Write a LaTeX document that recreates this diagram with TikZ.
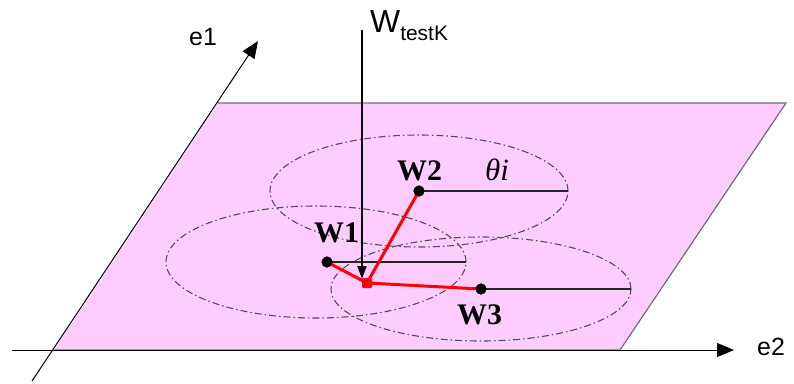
\documentclass[tikz,border=0pt]{standalone}
\usepackage{fontspec}
\setmainfont{Liberation Serif}
\setsansfont{Liberation Sans}
\usetikzlibrary{arrows.meta}
\definecolor{planepink}{HTML}{FFCCFF}
\definecolor{edgegray}{HTML}{707070}
\definecolor{ringgray}{HTML}{505050}
\begin{document}
\begin{tikzpicture}[x=1bp,y=-1bp,
  plane/.style={fill=planepink},
  planeedge/.style={draw=edgegray,line width=1.2bp},
  axis/.style={draw=black,line width=1bp,-{Triangle[length=17bp,width=14bp]}},
  ring/.style={draw=ringgray,line width=1.1bp,dash pattern=on 7bp off 3bp on 1.5bp off 3bp},
  dot/.style={circle,fill=black,inner sep=0pt,minimum size=11bp},
  redpt/.style={rectangle,rounded corners=1.5bp,fill=red,inner sep=0pt,minimum size=10bp},
  redline/.style={draw=red,line width=3bp},
  radline/.style={draw=black!85,line width=1.1bp},
  wlabel/.style={font=\bfseries\fontsize{30}{30}\selectfont,inner sep=0pt,anchor=base west},
  axlabel/.style={font=\sffamily\fontsize{25}{25}\selectfont,inner sep=0pt,anchor=base west}
]
\useasboundingbox (0,0) rectangle (794,383);
% plane
\fill[plane] (218,103) -- (786,103) -- (620,350) -- (54,350) -- cycle;
\draw[planeedge] (218,103) -- (786,103) -- (620,350) -- (54,350);
% circles
\draw[ring] (419,191) ellipse [x radius=149bp, y radius=56bp];
\draw[ring] (316,262) ellipse [x radius=150bp, y radius=56bp];
\draw[ring] (481,289) ellipse [x radius=150bp, y radius=52bp];
% axes
\coordinate (e1s) at (32,381);
\coordinate (e1t) at (258,41);
\coordinate (e2s) at (12,350);
\coordinate (e2t) at (734,350);
\draw[axis] (e1s) -- (e1t);
\draw[axis] (e2s) -- (e2t);
\node[axlabel] (le1) at (189,45) {e1};
\node[axlabel] (le2) at (757,355) {e2};
% points
\node[dot] (w1) at (327,262) {};
\node[dot] (w2) at (419,191) {};
\node[dot] (w3) at (481,289) {};
\coordinate (r1) at (466,262);
\coordinate (r2) at (568,191);
\coordinate (r3) at (631,289);
\draw[radline] (w1.center) -- (r1);
\draw[radline] (w2.center) -- (r2);
\draw[radline] (w3.center) -- (r3);
% test vector
\coordinate (wtop) at (362,30);
\coordinate (wtip) at (362,279);
\draw[line width=2bp,-{Triangle[length=13bp,width=9bp]}] (wtop) -- (wtip);
\node[redpt] (p) at (367,283) {};
\draw[redline] (p.center) -- (w1.center);
\draw[redline] (p.center) -- (w2.center);
\draw[redline] (p.center) -- (w3.center);
\node[redpt] at (p) {};
\node[dot] at (w1) {};
\node[dot] at (w2) {};
\node[dot] at (w3) {};
% labels
\node[wlabel] (lw1) at (314,242) {W1};
\node[wlabel] (lw2) at (397,180) {W2};
\node[wlabel] (lw3) at (457,324) {W3};
\node[font=\itshape\fontsize{31}{31}\selectfont,inner sep=0pt,anchor=base west] (lth) at (485,180) {θi};
\node[font=\sffamily\fontsize{32}{32}\selectfont,inner sep=0pt,anchor=base west] (lwt) at (370,32) {W{\fontsize{21}{21}\selectfont\raisebox{-8bp}{testK}}};
\end{tikzpicture}
\end{document}
